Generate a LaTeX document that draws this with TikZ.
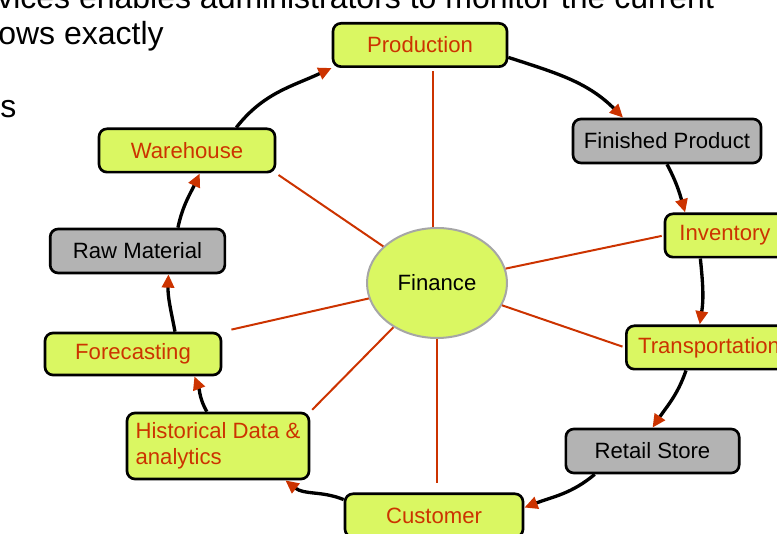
\documentclass[tikz,border=0pt]{standalone}
\usepackage{fontspec}
\setmainfont{Liberation Sans}
\usetikzlibrary{arrows.meta, shapes.geometric}
\definecolor{leaf}{RGB}{218,247,98}
\definecolor{stone}{RGB}{179,179,179}
\definecolor{rust}{RGB}{204,51,0}
\definecolor{rim}{RGB}{166,166,166}
\tikzset{
    lbox/.style={draw, line width=2pt, rounded corners=6pt, fill=leaf, text=rust,
        minimum height=32.5pt, inner sep=0pt, font=\fontsize{16.6pt}{19.5pt}\selectfont}, % yellow step of the cycle
    gbox/.style={lbox, fill=stone, text=black}, % grey step of the cycle
    cyc/.style={line width=2.5pt, -{Triangle[length=10pt, width=9pt, color=rust]}}, % arrows round the ring
    spoke/.style={draw=rust, line width=1.5pt}, % lines out of the hub
    note/.style={inner sep=0pt, anchor=base west, font=\fontsize{24pt}{28pt}\selectfont},
}
\begin{document}
\begin{tikzpicture}[x=0.75pt, y=0.75pt]
    \path[use as bounding box, clip] (0,0) rectangle (777,534);

    % text of the slide behind the diagram
    \node[note] (l1) at (-3,525) {vices enables administrators to monitor the current};
    \node[note] (l2) at (-2,489) {ows exactly};
    \node[note] (l3) at (0,416) {s};

    % hub
    \node[ellipse, draw=rim, line width=1.5pt, fill=leaf, minimum width=105pt, minimum height=82.5pt,
        inner sep=0pt, font=\fontsize{16.6pt}{19.5pt}\selectfont] (finance) at (437,251) {Finance};

    % ring of steps
    \node[lbox, minimum width=130.5pt] (prod) at (420,489) {Production};
    \node[gbox, minimum width=141pt, minimum height=33pt] (fprod) at (667,393) {Finished Product};
    \node[lbox, minimum width=90pt] (inv) at (725,298.5) {Inventory};
    \node[lbox, minimum width=124pt] (trans) at (709,186.5) {Transportation};
    \node[gbox, minimum width=130pt, minimum height=33pt] (retail) at (652.5,83) {Retail Store};
    \node[lbox, minimum width=133.5pt] (cust) at (434,18.5) {Customer};
    \node[lbox, minimum width=136.5pt, minimum height=49.5pt, align=left] (hist) at (218,88) {Historical Data \&\\analytics};
    \node[lbox, minimum width=132pt, minimum height=31.5pt] (fore) at (133,180) {Forecasting};
    \node[gbox, minimum width=131pt, minimum height=33pt] (raw) at (137.5,283) {Raw Material};
    \node[lbox, minimum width=132pt] (ware) at (187,383.5) {Warehouse};

    % cycle
    \draw[cyc] (ware.25) to[out=52, in=205] (prod.south west);
    \draw[cyc] (prod.-8) to[out=-18, in=135] (fprod.152);
    \draw[cyc] (fprod.south) to[out=-62, in=106] (inv.150);
    \draw[cyc] (inv.223) to[out=-84, in=81] (trans.112);
    \draw[cyc] (trans.225) to[out=-109, in=56] (retail.north);
    \draw[cyc] (retail.202) to[out=-140, in=21] (cust.5);
    \draw[cyc] (cust.170) to[out=158, in=-38] (hist.-27);
    \draw[cyc] (hist.108) to[out=120, in=-69] (fore.-20);
    \draw[cyc] (fore.28) to[out=101, in=268] (raw.-37);
    \draw[cyc] (raw.30) to[out=78, in=245] (ware.-61);

    % spokes
    \draw[spoke, shorten >=2pt] (finance.94) -- (finance.94 |- prod.south);
    \draw[spoke, shorten >=2pt] (finance) -- (ware.south east);
    \draw[spoke, shorten >=1.5pt] (finance) -- (inv.west);
    \draw[spoke, shorten >=2pt] (finance) -- (trans.west);
    \draw[spoke, shorten >=7pt] (finance.south) -- (finance.south |- cust.north);
    \draw[spoke, shorten >=2pt] (finance) -- (hist.north east);
    \draw[spoke, shorten >=7pt] (finance) -- (fore.north east);
\end{tikzpicture}
\end{document}
